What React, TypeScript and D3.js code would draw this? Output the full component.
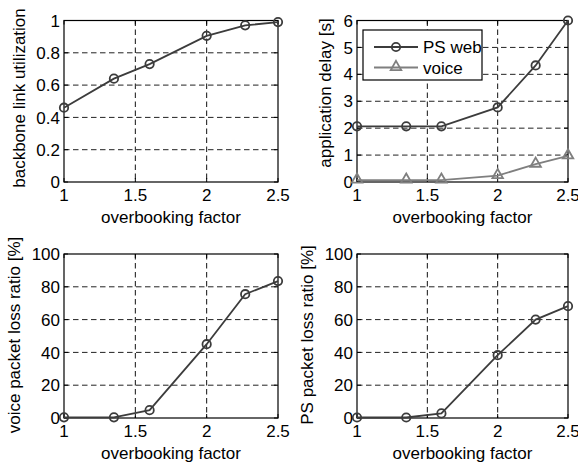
import React from "react";
import * as d3 from "d3";

const overbooking = [1, 1.35, 1.6, 2, 2.27, 2.5];
const xTicks = [1, 1.5, 2, 2.5];
const xTickLabels = ["1", "1.5", "2", "2.5"];

const utilization = [0.46, 0.64, 0.73, 0.905, 0.97, 0.99];
const utilTicks = [0, 0.2, 0.4, 0.6, 0.8, 1];
const utilTickLabels = ["0", "0.2", "0.4", "0.6", "0.8", "1"];

const delayPsWeb = [2.07, 2.07, 2.07, 2.77, 4.33, 6.0];
const delayVoice = [0.07, 0.07, 0.07, 0.24, 0.66, 0.97];
const delayTicks = [0, 1, 2, 3, 4, 5, 6];
const delayTickLabels = ["0", "1", "2", "3", "4", "5", "6"];

const voiceLoss = [0.4, 0.4, 4.8, 45, 75.5, 83.5];
const psLoss = [0.3, 0.3, 2.8, 38.3, 60, 68.2];
const lossTicks = [0, 20, 40, 60, 80, 100];
const lossTickLabels = ["0", "20", "40", "60", "80", "100"];

const legendLabels = ["PS web", "voice"];

const DARK = "#3c3c3c";
const GREY = "#7f7f7f";
const FONT = "'Liberation Sans', Arial, Helvetica, sans-serif";

type Series = { values: number[]; color: string; marker: "circle" | "triangle" };

function Marker({ x, y, kind, color }: { x: number; y: number; kind: string; color: string }) {
  if (kind === "circle") {
    return <circle cx={x} cy={y} r={4.2} fill="none" stroke={color} strokeWidth={1.8} />;
  }
  const sym = d3.symbol().type(d3.symbolTriangle).size(48)();
  return <path d={sym || ""} transform={`translate(${x},${y - 0.5})`} fill="none" stroke={color} strokeWidth={1.8} />;
}

function Panel(props: {
  left: number;
  right: number;
  top: number;
  bottom: number;
  yMax: number;
  yTicks: number[];
  yTickLabels: string[];
  yLabel: string;
  yLabelX: number;
  yLabelY: number;
  series: Series[];
}) {
  const { left, right, top, bottom, yMax, yTicks, yTickLabels, yLabel, yLabelX, yLabelY, series } = props;
  const x = d3.scaleLinear().domain([1, 2.5]).range([left, right]);
  const y = d3.scaleLinear().domain([0, yMax]).range([bottom, top]);
  const line = d3
    .line<number>()
    .x((_, i) => x(overbooking[i]))
    .y((d) => y(d));
  const tl = 4;
  return (
    <g>
      {yTicks
        .filter((t) => t > 0 && t < yMax)
        .map((t) => (
          <line key={"gy" + t} x1={left} x2={right} y1={y(t)} y2={y(t)} stroke="#222" strokeWidth={1} strokeDasharray="5.5,3.5" />
        ))}
      {xTicks
        .filter((t) => t > 1 && t < 2.5)
        .map((t) => (
          <line key={"gx" + t} x1={x(t)} x2={x(t)} y1={top} y2={bottom} stroke="#111" strokeWidth={1} strokeDasharray="5.5,3.5" />
        ))}
      {yTicks.map((t) => (
        <g key={"ty" + t}>
          <line x1={left} x2={left + tl} y1={y(t)} y2={y(t)} stroke="#000" />
          <line x1={right} x2={right - tl} y1={y(t)} y2={y(t)} stroke="#000" />
        </g>
      ))}
      {xTicks.map((t) => (
        <g key={"tx" + t}>
          <line x1={x(t)} x2={x(t)} y1={bottom} y2={bottom - tl} stroke="#000" />
          <line x1={x(t)} x2={x(t)} y1={top} y2={top + tl} stroke="#000" />
        </g>
      ))}
      <rect x={left} y={top} width={right - left} height={bottom - top} fill="none" stroke="#000" strokeWidth={1.2} />
      {yTicks.map((t, i) => (
        <text key={"yl" + t} x={left - 4} y={y(t)} dy="0.36em" textAnchor="end" fontSize={17} fontFamily={FONT}>
          {yTickLabels[i]}
        </text>
      ))}
      {xTicks.map((t, i) => (
        <text key={"xl" + t} x={x(t)} y={bottom + 18.5} textAnchor="middle" fontSize={17} fontFamily={FONT}>
          {xTickLabels[i]}
        </text>
      ))}
      <text x={(left + right) / 2} y={bottom + 41} textAnchor="middle" fontSize={17} fontFamily={FONT}>
        overbooking factor
      </text>
      <text
        transform={`translate(${yLabelX},${yLabelY}) rotate(-90)`}
        textAnchor="middle"
        fontSize={17}
        fontFamily={FONT}
      >
        {yLabel}
      </text>
      {series.map((s, si) => (
        <g key={"s" + si}>
          <path d={line(s.values) || ""} fill="none" stroke={s.color} strokeWidth={1.8} />
          {s.values.map((v, i) => (
            <Marker key={i} x={x(overbooking[i])} y={y(v)} kind={s.marker} color={s.color} />
          ))}
        </g>
      ))}
    </g>
  );
}

export default function App() {
  const L1 = 64, R1 = 278, L2 = 357, R2 = 568;
  const T1 = 20.5, B1 = 182, T2 = 254, B2 = 418;
  const lgX = 363, lgY = 30, lgW = 119, lgH = 50;
  return (
    <svg width={578} height={463} style={{ position: "absolute", left: 0, top: 0, background: "#fff" }}>
      <rect x={0} y={0} width={578} height={463} fill="#fff" />
      <Panel
        left={L1} right={R1} top={T1} bottom={B1}
        yMax={1} yTicks={utilTicks} yTickLabels={utilTickLabels}
        yLabel="backbone link utilization" yLabelX={25} yLabelY={98}
        series={[{ values: utilization, color: DARK, marker: "circle" }]}
      />
      <Panel
        left={L2} right={R2} top={T1} bottom={B1}
        yMax={6} yTicks={delayTicks} yTickLabels={delayTickLabels}
        yLabel="application delay [s]" yLabelX={331} yLabelY={93}
        series={[
          { values: delayPsWeb, color: DARK, marker: "circle" },
          { values: delayVoice, color: GREY, marker: "triangle" },
        ]}
      />
      <Panel
        left={L1} right={R1} top={T2} bottom={B2}
        yMax={100} yTicks={lossTicks} yTickLabels={lossTickLabels}
        yLabel="voice packet loss ratio [%]" yLabelX={20} yLabelY={335}
        series={[{ values: voiceLoss, color: DARK, marker: "circle" }]}
      />
      <Panel
        left={L2} right={R2} top={T2} bottom={B2}
        yMax={100} yTicks={lossTicks} yTickLabels={lossTickLabels}
        yLabel="PS packet loss ratio [%]" yLabelX={313} yLabelY={335}
        series={[{ values: psLoss, color: DARK, marker: "circle" }]}
      />
      <g>
        <rect x={lgX} y={lgY} width={lgW} height={lgH} fill="#fff" stroke="#000" strokeWidth={1.2} />
        {legendLabels.map((lab, i) => {
          const cy = lgY + 17 + i * 20.5;
          const color = i === 0 ? DARK : GREY;
          return (
            <g key={lab}>
              <line x1={lgX + 11} x2={lgX + 55} y1={cy} y2={cy} stroke={color} strokeWidth={1.8} />
              <Marker x={lgX + 33} y={cy} kind={i === 0 ? "circle" : "triangle"} color={color} />
              <text x={lgX + 60} y={cy} dy="0.36em" fontSize={17} fontFamily={FONT}>
                {lab}
              </text>
            </g>
          );
        })}
      </g>
    </svg>
  );
}
